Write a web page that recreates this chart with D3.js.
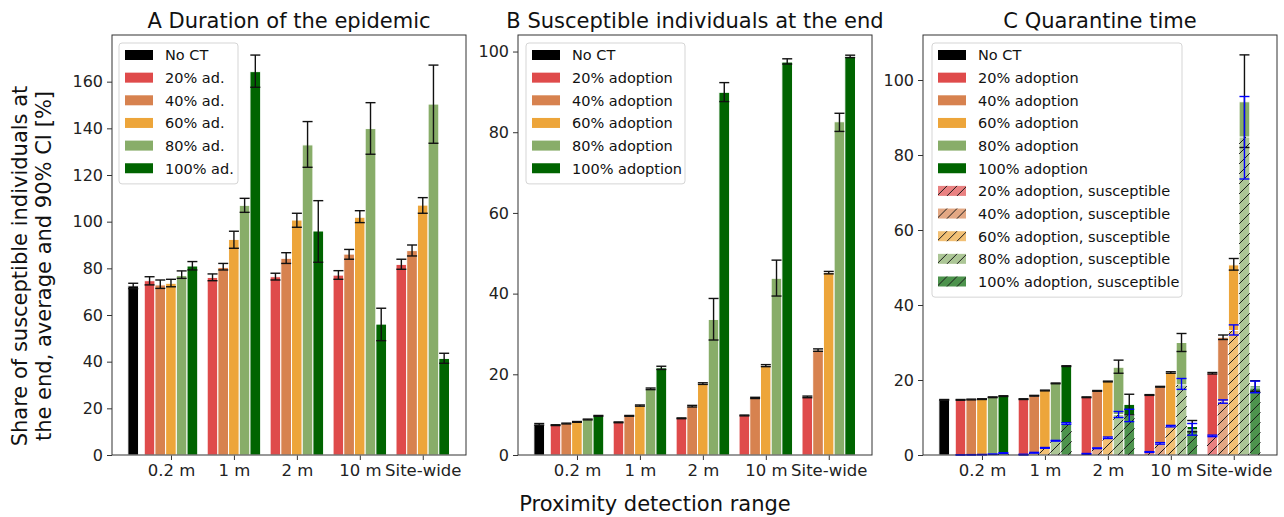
<!DOCTYPE html>
<html>
<head>
<meta charset="utf-8">
<script src="https://cdn.jsdelivr.net/npm/d3@7"></script>
<style>
  body { margin: 0; background: #fff; }
  svg { font-family: "DejaVu Sans", sans-serif; }
</style>
</head>
<body>
<svg id="chart" width="1284" height="517"></svg>
<script>
// categories
var ranges = ['0.2 m', '1 m', '2 m', '10 m', 'Site-wide'];
var levels = ['20%', '40%', '60%', '80%', '100%'];
var colors = ['#df4b4b', '#d7824f', '#eda53a', '#88ad69', '#006400'];

// A: duration of the epidemic (rows = adoption level, cols = range)
var durNoCT = [72.5, 71.3, 73.6];
var durMean = [
  [74.7, 76.1, 76.4, 77.1, 81.7],
  [72.9, 80.4, 84.3, 86.1, 87.6],
  [73.6, 92.4, 100.7, 101.9, 107.1],
  [76.9, 107.0, 132.9, 139.9, 150.4],
  [81.0, 164.3, 96.0, 56.1, 41.4]];
var durLo = [
  [72.9, 74.7, 75.0, 75.3, 79.6],
  [71.4, 79.3, 82.1, 83.9, 85.3],
  [72.1, 88.6, 97.6, 99.6, 103.6],
  [75.7, 104.0, 123.3, 128.9, 133.6],
  [79.3, 157.6, 82.6, 49.0, 39.3]];
var durHi = [
  [76.4, 77.6, 77.9, 79.0, 83.9],
  [75.0, 82.1, 86.7, 88.1, 90.0],
  [75.3, 95.9, 103.6, 104.7, 110.3],
  [78.9, 110.0, 142.9, 151.0, 167.1],
  [82.9, 171.4, 109.0, 62.9, 43.6]];

// B: susceptible individuals at the end
var susNoCT = [7.6, 7.4, 7.8];
var susMean = [
  [7.4, 8.1, 9.1, 9.8, 14.4],
  [7.8, 9.7, 12.1, 14.1, 26.0],
  [8.2, 12.2, 17.7, 22.1, 45.2],
  [8.8, 16.4, 33.6, 43.8, 82.6],
  [9.7, 21.6, 89.9, 97.4, 98.8]];
var susLo = [
  [7.3, 8.0, 9.0, 9.7, 14.2],
  [7.7, 9.6, 11.9, 14.0, 25.7],
  [8.1, 12.1, 17.5, 21.9, 44.9],
  [8.7, 16.2, 28.5, 39.4, 80.2],
  [9.6, 21.2, 87.6, 96.9, 98.5]];
var susHi = [
  [7.5, 8.2, 9.2, 9.9, 14.6],
  [7.9, 9.8, 12.3, 14.3, 26.3],
  [8.3, 12.4, 17.9, 22.4, 45.5],
  [8.9, 16.6, 38.8, 48.3, 84.7],
  [9.8, 22.0, 92.3, 98.2, 99.1]];

// C: quarantine time, total
var quaNoCT = [14.7, 14.6, 14.8];
var quaMean = [
  [14.7, 14.9, 15.4, 16.0, 21.8],
  [14.8, 15.8, 17.1, 18.2, 31.4],
  [14.9, 17.2, 19.6, 22.0, 50.7],
  [15.4, 19.1, 23.4, 30.0, 94.2],
  [15.7, 23.7, 13.5, 7.6, 18.4]];
var quaLo = [
  [14.6, 14.8, 15.3, 15.9, 21.6],
  [14.7, 15.7, 17.0, 18.1, 30.8],
  [14.8, 17.1, 19.5, 21.8, 49.3],
  [15.3, 19.0, 21.8, 27.6, 82.0],
  [15.6, 23.6, 10.7, 6.2, 17.0]];
var quaHi = [
  [14.8, 15.0, 15.5, 16.1, 22.0],
  [14.9, 15.9, 17.2, 18.3, 32.0],
  [15.0, 17.3, 19.7, 22.2, 52.4],
  [15.5, 19.2, 25.3, 32.4, 106.7],
  [15.8, 23.8, 16.2, 9.2, 19.8]];

// C: quarantine time of susceptible individuals
var qsMean = [
  [0.0, 0.1, 0.3, 0.8, 5.1],
  [0.05, 0.6, 1.8, 3.1, 14.2],
  [0.1, 1.9, 4.6, 7.7, 33.2],
  [0.2, 3.8, 10.8, 18.7, 84.8],
  [0.5, 8.4, 10.6, 6.7, 17.9]];
var qsLo = [
  [0.0, 0.0, 0.2, 0.7, 4.9],
  [0.0, 0.5, 1.7, 2.9, 13.8],
  [0.05, 1.8, 4.4, 7.5, 32.0],
  [0.15, 3.7, 10.0, 17.5, 73.6],
  [0.4, 8.2, 8.9, 5.3, 16.6]];
var qsHi = [
  [0.05, 0.2, 0.4, 0.9, 5.3],
  [0.1, 0.7, 1.9, 3.3, 14.7],
  [0.15, 2.0, 4.8, 7.9, 34.7],
  [0.25, 3.9, 11.6, 20.4, 95.6],
  [0.6, 8.6, 12.2, 8.4, 19.7]];

var svg = d3.select('#chart');
var plotTop = 35, plotBottom = 455, panelW = 354;
var bw = 0.17;       // bar width in category units
var noCTpos = -0.6;  // position of the No CT bar

// hatch pattern
svg.append('defs').append('pattern')
  .attr('id', 'hatch')
  .attr('patternUnits', 'userSpaceOnUse')
  .attr('width', 10).attr('height', 10)
  .selectAll('path')
  .data(['M0,10 L10,0', 'M-2,2 L2,-2', 'M8,12 L12,8'])
  .enter().append('path')
  .attr('d', function(d) { return d; })
  .attr('stroke', '#1a1a1a').attr('stroke-width', 1);

function lighter(c) {
  // colour at alpha 0.7 over white
  return d3.interpolateRgb('#ffffff', c)(0.7);
}

function errBar(g, x, y, lo, hi, cx, color) {
  var X = x(cx);
  g.append('line').attr('x1', X).attr('x2', X)
    .attr('y1', y(lo)).attr('y2', y(hi))
    .attr('stroke', color).attr('stroke-width', 1.4);
  [lo, hi].forEach(function(v) {
    g.append('line').attr('x1', X - 5).attr('x2', X + 5)
      .attr('y1', y(v)).attr('y2', y(v))
      .attr('stroke', color).attr('stroke-width', 1.4);
  });
}

function drawPanel(p) {
  var g = svg.append('g').attr('transform', 'translate(' + p.left + ',0)');
  var x = d3.scaleLinear().domain([-0.937, 4.687]).range([0, panelW]);
  var y = d3.scaleLinear().domain([0, p.ymax]).range([plotBottom, plotTop]);
  var w = x(bw) - x(0);

  // y axis
  var ya = g.append('g')
    .call(d3.axisLeft(y).tickValues(p.ticks).tickSize(5).tickPadding(4));
  ya.attr('font-family', null).attr('font-size', null);
  ya.select('.domain').remove();
  ya.selectAll('text').attr('font-size', 16).attr('fill', '#222');
  ya.selectAll('line').attr('stroke', '#333');

  // x axis
  var xa = g.append('g').attr('transform', 'translate(0,' + plotBottom + ')')
    .call(d3.axisBottom(x).tickValues(d3.range(ranges.length))
      .tickFormat(function(d) { return ranges[d]; }).tickSize(5).tickPadding(4));
  xa.attr('font-family', null).attr('font-size', null);
  xa.select('.domain').remove();
  xa.selectAll('text').attr('font-size', 16.5).attr('fill', '#222');
  xa.selectAll('line').attr('stroke', '#333');

  var bars = g.append('g');
  // No CT bar
  bars.append('rect')
    .attr('x', x(noCTpos - bw / 2)).attr('width', w)
    .attr('y', y(p.noCT[0])).attr('height', y(0) - y(p.noCT[0]))
    .attr('fill', '#000').attr('stroke', '#fff').attr('stroke-width', 1);

  levels.forEach(function(lv, i) {
    bars.selectAll('rect.l' + i)
      .data(p.mean[i]).enter().append('rect')
      .attr('class', 'l' + i)
      .attr('x', function(d, j) { return x(j + (i - 2) * bw - bw / 2); })
      .attr('width', w)
      .attr('y', function(d) { return y(d); })
      .attr('height', function(d) { return y(0) - y(d); })
      .attr('fill', colors[i]).attr('stroke', '#fff').attr('stroke-width', 1);
  });

  if (p.sMean) {
    levels.forEach(function(lv, i) {
      [lighter(colors[i]), 'url(#hatch)'].forEach(function(f, k) {
        bars.selectAll('rect.h' + i + '_' + k)
          .data(p.sMean[i]).enter().append('rect')
          .attr('class', 'h' + i + '_' + k)
          .attr('x', function(d, j) { return x(j + (i - 2) * bw - bw / 2); })
          .attr('width', w)
          .attr('y', function(d) { return y(d); })
          .attr('height', function(d) { return y(0) - y(d); })
          .attr('fill', f)
          .attr('stroke', k ? 'none' : '#fff').attr('stroke-width', 1);
      });
    });
  }

  var eg = g.append('g');
  errBar(eg, x, y, p.noCT[1], p.noCT[2], noCTpos, '#111');
  levels.forEach(function(lv, i) {
    p.mean[i].forEach(function(d, j) {
      errBar(eg, x, y, p.lo[i][j], p.hi[i][j], j + (i - 2) * bw, '#111');
    });
  });
  if (p.sMean) {
    levels.forEach(function(lv, i) {
      p.sMean[i].forEach(function(d, j) {
        errBar(eg, x, y, p.sLo[i][j], p.sHi[i][j], j + (i - 2) * bw, '#0000ff');
      });
    });
  }

  // frame
  g.append('rect').attr('x', 0).attr('y', plotTop)
    .attr('width', panelW).attr('height', plotBottom - plotTop)
    .attr('fill', 'none').attr('stroke', '#333').attr('stroke-width', 1);

  // title
  g.append('text').text(p.title)
    .attr('x', panelW / 2).attr('y', 28)
    .attr('text-anchor', 'middle').attr('font-size', 21).attr('fill', '#111');

  // legend
  var lg = g.append('g').attr('transform', 'translate(' + p.legendX + ',43)');
  var rowH = 22.65;
  lg.append('rect').attr('width', p.legendW).attr('height', rowH * p.legend.length + 5)
    .attr('rx', 3).attr('fill', '#fff').attr('fill-opacity', 0.85)
    .attr('stroke', '#d5d5d5').attr('stroke-width', 1);
  var rows = lg.selectAll('g.row').data(p.legend).enter().append('g')
    .attr('class', 'row')
    .attr('transform', function(d, k) { return 'translate(0,' + (12 + k * rowH) + ')'; });
  rows.append('rect').attr('x', 6).attr('y', -5).attr('width', 28).attr('height', 10)
    .attr('fill', function(d) { return d.hatch ? lighter(d.color) : d.color; });
  rows.filter(function(d) { return d.hatch; })
    .append('rect').attr('x', 6).attr('y', -5).attr('width', 28).attr('height', 10)
    .attr('fill', 'url(#hatch)');
  rows.append('text').text(function(d) { return d.label; })
    .attr('x', 46).attr('y', 5.3)
    .attr('font-size', 14.5).attr('fill', '#111');
}

function legendItems(suffix, withHatch) {
  var items = [{label: 'No CT', color: '#000'}];
  levels.forEach(function(lv, i) { items.push({label: lv + suffix, color: colors[i]}); });
  if (withHatch) {
    levels.forEach(function(lv, i) {
      items.push({label: lv + suffix + ', susceptible', color: colors[i], hatch: true});
    });
  }
  return items;
}

drawPanel({left: 112, title: 'A Duration of the epidemic', ymax: 180,
  ticks: d3.range(0, 161, 20), noCT: durNoCT, mean: durMean, lo: durLo, hi: durHi,
  legend: legendItems(' ad.', false), legendX: 7, legendW: 119});
drawPanel({left: 518, title: 'B Susceptible individuals at the end', ymax: 104.1,
  ticks: d3.range(0, 101, 20), noCT: susNoCT, mean: susMean, lo: susLo, hi: susHi,
  legend: legendItems(' adoption', false), legendX: 8, legendW: 159});
drawPanel({left: 923, title: 'C Quarantine time', ymax: 112,
  ticks: d3.range(0, 101, 20), noCT: quaNoCT, mean: quaMean, lo: quaLo, hi: quaHi,
  sMean: qsMean, sLo: qsLo, sHi: qsHi,
  legend: legendItems(' adoption', true), legendX: 9, legendW: 250});

// shared axis labels
svg.append('text').text('Proximity detection range')
  .attr('x', 655).attr('y', 511).attr('text-anchor', 'middle')
  .attr('font-size', 21).attr('fill', '#111');
var yl = svg.append('text').attr('text-anchor', 'middle')
  .attr('font-size', 21).attr('fill', '#111')
  .attr('transform', 'translate(27,266) rotate(-90)');
yl.append('tspan').attr('x', 0).attr('y', 0).text('Share of susceptible individuals at');
yl.append('tspan').attr('x', 0).attr('y', 24).text('the end, average and 90% CI [%]');
</script>
</body>
</html>
